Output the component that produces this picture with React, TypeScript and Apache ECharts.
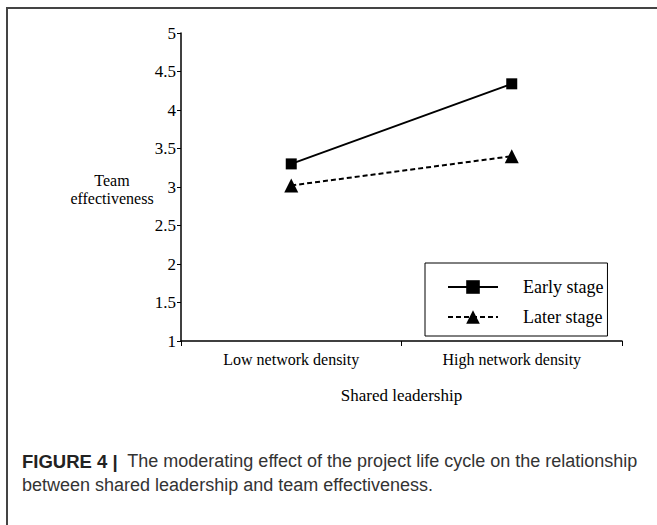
import React, { useEffect, useRef } from "react";
import * as echarts from "echarts";

const categories = ["Low network density", "High network density"];
const earlyStage = [3.3, 4.34];
const laterStage = [3.02, 3.4];
const seriesNames = ["Early stage", "Later stage"];
const yTicks = { min: 1, max: 5, interval: 0.5 };
const yAxisName = "Team\neffectiveness";

const SERIF = "'Liberation Serif', 'Times New Roman', serif";
const SANS = "'Liberation Sans', Arial, sans-serif";

export default function App() {
  const ref = useRef<HTMLDivElement>(null);
  useEffect(() => {
    document.body.style.margin = "0";
    const chart = echarts.init(ref.current!, null, { renderer: "svg" });
    chart.setOption({
      animation: false,
      backgroundColor: "#fff",
      grid: { left: 181, top: 33, right: 35, bottom: 184 },
      xAxis: {
        type: "category",
        data: categories,
        boundaryGap: true,
        axisLine: { lineStyle: { color: "#000", width: 1.5 } },
        axisTick: { show: true, length: 5, lineStyle: { color: "#000" } },
        axisLabel: { color: "#000", fontFamily: SERIF, fontSize: 16, margin: 10 },
        name: "Shared leadership",
        nameLocation: "middle",
        nameGap: 46,
        nameTextStyle: { color: "#000", fontFamily: SERIF, fontSize: 17 },
      },
      yAxis: {
        type: "value",
        min: yTicks.min,
        max: yTicks.max,
        interval: yTicks.interval,
        axisLine: { show: true, lineStyle: { color: "#000", width: 1.5 } },
        axisTick: { show: true, length: 4, lineStyle: { color: "#000" } },
        splitLine: { show: false },
        axisLabel: {
          color: "#000",
          fontFamily: SERIF,
          fontSize: 17,
          margin: 5,
          formatter: (v: number) => String(v),
        },
      },
      legend: {
        orient: "vertical",
        left: 425,
        top: 263,
        padding: [15, 4, 10, 22],
        borderColor: "#000",
        borderWidth: 1,
        itemWidth: 50,
        itemHeight: 17,
        itemGap: 12,
        data: seriesNames,
        textStyle: { color: "#000", fontFamily: SERIF, fontSize: 18, padding: [0, 0, 0, 20] },
      },
      series: [
        {
          name: seriesNames[0],
          type: "line",
          data: earlyStage,
          symbol: "rect",
          symbolSize: 11,
          itemStyle: { color: "#000" },
          lineStyle: { color: "#000", width: 2, type: "solid" },
        },
        {
          name: seriesNames[1],
          type: "line",
          data: laterStage,
          symbol: "triangle",
          symbolSize: 14,
          itemStyle: { color: "#000" },
          lineStyle: { color: "#000", width: 2, type: [5, 3] },
        },
      ],
      graphic: [
        {
          type: "rect",
          shape: { x: 7, y: 8, width: 700, height: 600 },
          style: { fill: "none", stroke: "#444", lineWidth: 2 },
          silent: true,
        },
        {
          type: "text",
          x: 112,
          y: 171,
          style: {
            text: yAxisName,
            fontFamily: SERIF,
            fontSize: 16,
            lineHeight: 18,
            fill: "#000",
            align: "center",
            verticalAlign: "top",
          },
        },
        {
          type: "text",
          left: 22,
          top: 449,
          style: {
            rich: {
              b: { fontFamily: SANS, fontSize: 18.5, fontWeight: "bold", fill: "#222", lineHeight: 24 },
              n: { fontFamily: SANS, fontSize: 18, fill: "#333", lineHeight: 24 },
            },
            text:
              "{b|FIGURE 4 |}{n|  The moderating effect of the project life cycle on the relationship}\n{n|between shared leadership and team effectiveness.}",
            lineHeight: 24,
            fill: "#333",
          },
        },
      ],
    });
    return () => chart.dispose();
  }, []);
  return <div ref={ref} style={{ width: 657, height: 525 }} />;
}
